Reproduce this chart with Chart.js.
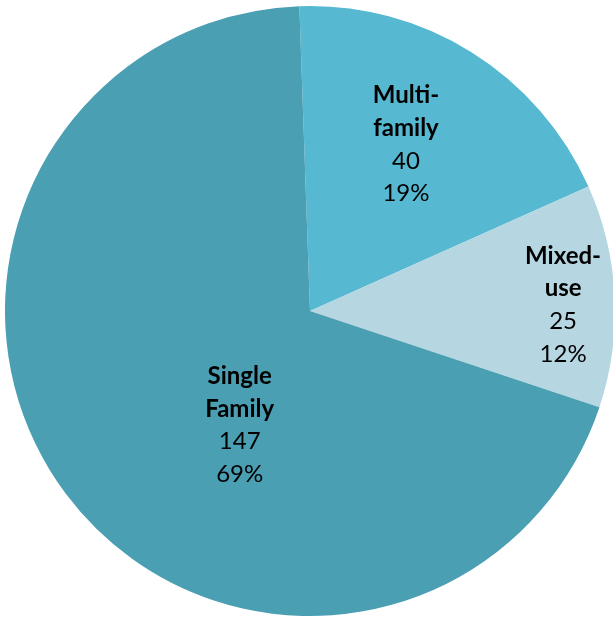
<!DOCTYPE html>
<html>
<head>
<meta charset="utf-8">
<script src="https://cdn.jsdelivr.net/npm/chart.js@4.4.1/dist/chart.umd.min.js"></script>
<style>
  html, body { margin: 0; padding: 0; background: #fff; overflow: hidden; }
  #wrap { position: absolute; left: 0; top: 0; width: 620px; height: 620px; }
</style>
</head>
<body>
<div id="wrap"><canvas id="pieChart" width="620" height="620"></canvas></div>
<script>
// Building types
const categories = ['Multi-\nfamily', 'Mixed-\nuse', 'Single\nFamily'];
const counts = [40, 25, 147];
const percents = ['19%', '12%', '69%'];
const sliceColors = ['#56b8d1', '#b6d7e2', '#4a9fb3'];

// label placement: fraction of radius and angle nudge (deg) from slice middle
const labelAnchors = [
  { r: 0.63, nudge: -2 },
  { r: 0.83, nudge: 1.5 },
  { r: 0.44, nudge: -21.6 }
];

const sliceLabels = {
  id: 'sliceLabels',
  afterDatasetsDraw(chart) {
    const ctx = chart.ctx;
    const meta = chart.getDatasetMeta(0);
    const lineH = 32.7;
    meta.data.forEach((arc, i) => {
      const mid = (arc.startAngle + arc.endAngle) / 2 + labelAnchors[i].nudge * Math.PI / 180;
      const dist = arc.outerRadius * labelAnchors[i].r;
      const cx = arc.x + Math.cos(mid) * dist;
      const cy = arc.y + Math.sin(mid) * dist;
      const lines = categories[i].split('\n').map(t => ({ t, bold: true }))
        .concat([{ t: String(counts[i]), bold: false }, { t: percents[i], bold: false }]);
      const top = cy - (lines.length - 1) * lineH / 2;
      ctx.save();
      ctx.fillStyle = '#000';
      ctx.textAlign = 'center';
      ctx.textBaseline = 'middle';
      lines.forEach((ln, k) => {
        ctx.font = (ln.bold ? 'bold ' : '') + '24px Lato, "Open Sans", sans-serif';
        ctx.fillText(ln.t, cx, top + k * lineH);
      });
      ctx.restore();
    });
  }
};

new Chart(document.getElementById('pieChart').getContext('2d'), {
  type: 'pie',
  data: {
    labels: categories,
    datasets: [{
      data: counts,
      backgroundColor: sliceColors,
      borderWidth: 0
    }]
  },
  options: {
    responsive: false,
    animation: false,
    rotation: -2,
    layout: { padding: { left: 5, top: 6, right: 5, bottom: 4 } },
    plugins: {
      legend: { display: false },
      tooltip: { enabled: false }
    }
  },
  plugins: [sliceLabels]
});
</script>
</body>
</html>
